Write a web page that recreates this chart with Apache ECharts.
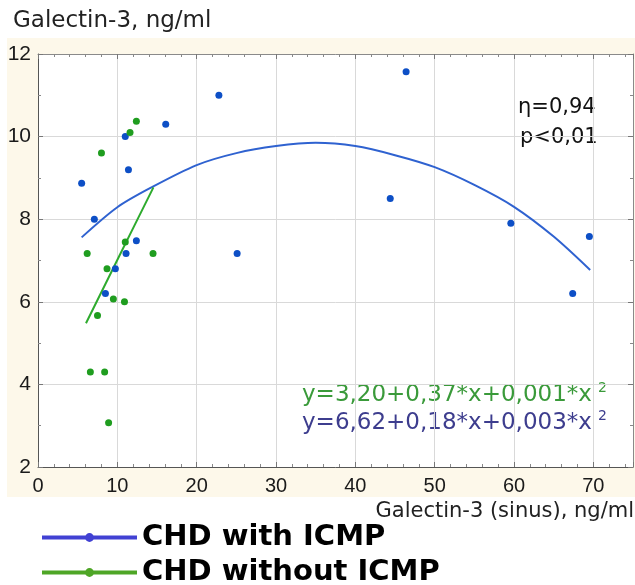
<!DOCTYPE html>
<html>
<head>
<meta charset="utf-8">
<script src="https://cdn.jsdelivr.net/npm/echarts@6/dist/echarts.min.js"></script>
<style>
html,body{margin:0;padding:0;background:#fff;}
#chart{width:635px;height:585px;}
</style>
</head>
<body>
<div id="chart"></div>
<script>
// Scatter points
var blueX = [5.5, 7.1, 11.0, 11.4, 16.1, 22.8, 12.4, 11.1, 9.75, 8.5, 25.1, 46.4, 44.4, 59.6, 69.5, 67.4];
var blueY = [8.87, 8.0, 10.0, 9.2, 10.3, 11.0, 7.48, 7.17, 6.8, 6.2, 7.17, 11.57, 8.5, 7.9, 7.58, 6.2];
var greenX = [8.0, 11.6, 12.4, 6.2, 11.0, 14.5, 8.7, 9.5, 10.9, 7.5, 6.6, 8.4, 8.9];
var greenY = [9.6, 10.1, 10.37, 7.17, 7.45, 7.17, 6.8, 6.07, 6.0, 5.67, 4.3, 4.3, 3.07];
// Fit curves
var blueFitX = [5.5, 10, 14.3, 20, 25, 30, 35, 40, 45, 50, 55, 60, 65, 69.6];
var blueFitY = [7.56, 8.29, 8.77, 9.31, 9.6, 9.77, 9.85, 9.77, 9.55, 9.26, 8.83, 8.3, 7.58, 6.77];
var greenFitX = [6.05, 10.4, 14.55];
var greenFitY = [5.48, 7.17, 8.77];
// Labels
var seriesNames = ['CHD with ICMP', 'CHD without ICMP'];
var yTitle = 'Galectin-3, ng/ml';
var xTitle = 'Galectin-3 (sinus), ng/ml';
var statLines = ['\u03b7=0,94', 'p<0,01'];
var eqGreen = 'y=3,20+0,37*x+0,001*x';
var eqBlue = 'y=6,62+0,18*x+0,003*x';

function pairs(xs, ys) { return xs.map(function (x, i) { return [x, ys[i]]; }); }

var tickFont = "'Liberation Sans Narrow','Liberation Sans',Arial,sans-serif";
var textFont = "'DejaVu Sans',Verdana,sans-serif";

var chart = echarts.init(document.getElementById('chart'));

function axisBase(pos, showLabel, min, max, interval, split) {
  return {
    type: 'value', position: pos, min: min, max: max, interval: interval,
    axisLine: { show: true, onZero: false, lineStyle: { color: (pos === 'bottom' || pos === 'left') ? '#555' : '#8a8a8a', width: 1 } },
    axisTick: { show: true, inside: true, length: 5, lineStyle: { color: '#777' } },
    minorTick: { show: true, splitNumber: split, length: 3, lineStyle: { color: '#888' } },
    splitLine: { show: showLabel, lineStyle: { color: '#d9d9d9', width: 1 } },
    minorSplitLine: { show: false },
    axisLabel: { show: showLabel, showMaxLabel: false, fontFamily: tickFont, color: '#1a1a1a' }
  };
}

var xa0 = axisBase('bottom', true, 0, 75, 10, 5);
xa0.axisLabel.fontSize = 20; xa0.axisLabel.margin = 9;
var xa1 = axisBase('top', false, 0, 75, 10, 5);
var ya0 = axisBase('left', true, 2, 12, 2, 2);
ya0.axisLabel.fontSize = 21; ya0.axisLabel.margin = 7; ya0.axisLabel.showMaxLabel = true;
var ya1 = axisBase('right', false, 2, 12, 2, 2);

var legendColors = ['#4141d3', '#4ea626'];
function legendFor(i, top) {
  return {
    orient: 'horizontal', left: 40, top: top, padding: 0, itemWidth: 95, itemHeight: 11,
    selectedMode: false,
    textStyle: { fontFamily: textFont, fontWeight: 'bold', fontSize: 29, color: '#000' },
    data: [{ name: seriesNames[i], lineStyle: { color: legendColors[i], width: 4 }, itemStyle: { color: legendColors[i] } }]
  };
}

var option = {
  animation: false,
  backgroundColor: '#ffffff',
  grid: { left: 38, top: 54, width: 595, height: 413, containLabel: false, show: false },
  xAxis: [xa0, xa1],
  yAxis: [ya0, ya1],
  legend: [legendFor(0, 523), legendFor(1, 558)],
  graphic: [
    { type: 'rect', z: -100, shape: { x: 7, y: 38, width: 628, height: 459 }, style: { fill: '#fdf8ea' } },
    { type: 'rect', z: -99, shape: { x: 38, y: 54, width: 595, height: 413 }, style: { fill: '#ffffff' } },
    { type: 'text', x: 13, y: 21, style: { text: yTitle, font: '23px ' + textFont, fill: '#222', textAlign: 'left', textVerticalAlign: 'middle' } },
    { type: 'text', x: 634, y: 512, style: { text: xTitle, font: '21px ' + textFont, fill: '#222', textAlign: 'right', textVerticalAlign: 'middle' } },
    { type: 'text', x: 518, y: 108, style: { text: statLines[0], font: '21px ' + textFont, fill: '#111', textAlign: 'left', textVerticalAlign: 'middle' } },
    { type: 'text', x: 520, y: 138, style: { text: statLines[1], font: '21px ' + textFont, fill: '#111', textAlign: 'left', textVerticalAlign: 'middle' } },
    { type: 'text', x: 302, y: 395, style: {
        text: '{m|' + eqGreen + '}{s|2}', textAlign: 'left', textVerticalAlign: 'middle',
        rich: {
          m: { fontFamily: textFont, fontSize: 23, fill: '#3a9a3a', color: '#3a9a3a', lineHeight: 28 },
          s: { fontFamily: textFont, fontSize: 14, fill: '#3a9a3a', color: '#3a9a3a', verticalAlign: 'top', padding: [0, 0, 10, 6], lineHeight: 14 }
        } } },
    { type: 'text', x: 302, y: 423, style: {
        text: '{m|' + eqBlue + '}{s|2}', textAlign: 'left', textVerticalAlign: 'middle',
        rich: {
          m: { fontFamily: textFont, fontSize: 23, fill: '#3d3d8e', color: '#3d3d8e', lineHeight: 28 },
          s: { fontFamily: textFont, fontSize: 14, fill: '#3d3d8e', color: '#3d3d8e', verticalAlign: 'top', padding: [0, 0, 0, 6], lineHeight: 14 }
        } } }
  ],
  series: [
    { name: seriesNames[0], type: 'line', xAxisIndex: 0, yAxisIndex: 0, data: pairs(blueFitX, blueFitY), smooth: 0.3,
      symbol: 'circle', showSymbol: false, lineStyle: { color: '#2f62d0', width: 2 }, itemStyle: { color: '#2f62d0' }, z: 3 },
    { name: seriesNames[1], type: 'line', xAxisIndex: 0, yAxisIndex: 0, data: pairs(greenFitX, greenFitY), smooth: 0.3,
      symbol: 'circle', showSymbol: false, lineStyle: { color: '#2eab2e', width: 2 }, itemStyle: { color: '#2eab2e' }, z: 3 },
    { name: seriesNames[0], type: 'scatter', xAxisIndex: 0, yAxisIndex: 0, data: pairs(blueX, blueY), symbolSize: 7,
      itemStyle: { color: '#0d4fc6', opacity: 1 }, z: 4 },
    { name: seriesNames[1], type: 'scatter', xAxisIndex: 0, yAxisIndex: 0, data: pairs(greenX, greenY), symbolSize: 7,
      itemStyle: { color: '#1f9d1f', opacity: 1 }, z: 4 }
  ]
};
chart.setOption(option);
</script>
</body>
</html>
